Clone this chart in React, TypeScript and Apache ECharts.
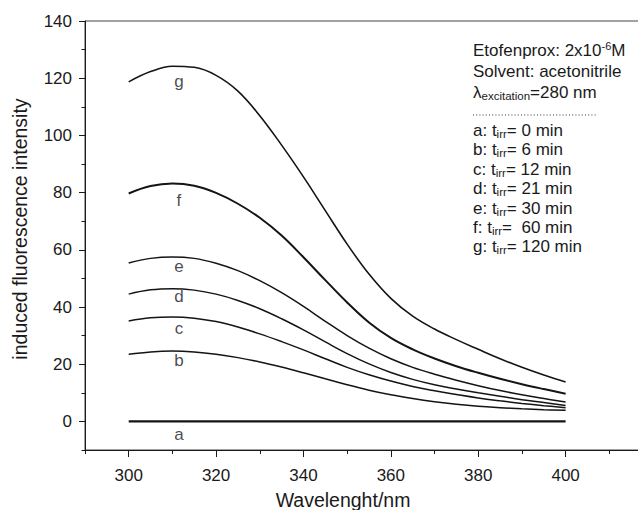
import React, { useEffect, useRef } from "react";
import * as echarts from "echarts";

const FONT = "'Liberation Sans', Arial, Helvetica, sans-serif";

const WAVELENGTHS = [300, 305, 310, 315, 320, 325, 330, 335, 340, 345, 350, 355, 360, 365, 370, 375, 380, 385, 390, 395, 400];
const CURVE_A = [0, 0, 0, 0, 0, 0, 0, 0, 0, 0, 0, 0, 0, 0, 0, 0, 0, 0, 0, 0, 0];
const CURVE_B = [23.5, 24.3, 24.6, 24.3, 23.5, 22.3, 20.8, 19.0, 17.0, 14.9, 12.8, 10.9, 9.3, 8.0, 6.9, 6.0, 5.3, 4.8, 4.4, 4.1, 3.9];
const CURVE_C = [35.1, 36.2, 36.5, 36.1, 34.9, 33.0, 30.6, 27.9, 25.0, 21.9, 18.9, 16.3, 14.1, 12.2, 10.7, 9.4, 8.2, 7.2, 6.3, 5.5, 4.8];
const CURVE_D = [44.5, 46.0, 46.4, 45.9, 44.5, 42.3, 39.4, 35.9, 32.0, 27.8, 23.7, 20.1, 17.1, 14.7, 12.8, 11.3, 10.0, 8.8, 7.6, 6.6, 5.6];
const CURVE_E = [55.4, 57.0, 57.5, 57.0, 55.3, 52.7, 49.2, 45.0, 40.2, 35.0, 30.0, 25.6, 21.9, 18.9, 16.5, 14.4, 12.5, 10.8, 9.3, 8.0, 6.8];
const CURVE_F = [79.7, 82.3, 83.2, 82.4, 79.9, 76.1, 71.2, 65.0, 57.4, 49.4, 41.6, 34.6, 29.2, 25.2, 22.0, 19.3, 17.0, 14.9, 13.0, 11.3, 9.7];
const CURVE_G = [118.7, 122.3, 124.2, 123.8, 121.0, 115.5, 106.9, 96.6, 85.5, 73.7, 62.0, 51.5, 43.0, 36.8, 32.3, 28.6, 25.2, 21.9, 18.9, 16.2, 13.8];

const CURVE_NAMES = ["a", "b", "c", "d", "e", "f", "g"];
const CURVES = [CURVE_A, CURVE_B, CURVE_C, CURVE_D, CURVE_E, CURVE_F, CURVE_G];
const CURVE_WIDTHS = [2.2, 1.5, 1.5, 1.5, 1.5, 2, 1.6];

const LABEL_X = [311.5, 311.5, 311.5, 311.5, 311.5, 311.5, 311.5];
const LABEL_Y = [-4.5, 21.4, 32.6, 43.8, 54.3, 77.4, 118.7];

const X_MAJOR = [300, 320, 340, 360, 380, 400, 420];
const X_LABELS = [300, 320, 340, 360, 380, 400];
const X_MINOR = [290, 310, 330, 350, 370, 390, 410];
const Y_MAJOR = [0, 20, 40, 60, 80, 100, 120, 140];
const Y_LABELS = [0, 20, 40, 60, 80, 100, 120, 140];
const Y_MINOR = [-10, 10, 30, 50, 70, 90, 110, 130];

const X_TITLE = "Wavelenght/nm";
const Y_TITLE = "induced fluorescence intensity";

const NOTE_HEAD = [
  "{n|Etofenprox: 2x10}{sup|-6}{n|M}",
  "{n|Solvent: acetonitrile}",
  "{n|λ}{sub|excitation}{n|=280 nm}",
];
const NOTE_TIMES = [
  "{n|a: t}{sub|irr}{n|= 0 min}",
  "{n|b: t}{sub|irr}{n|= 6 min}",
  "{n|c: t}{sub|irr}{n|= 12 min}",
  "{n|d: t}{sub|irr}{n|= 21 min}",
  "{n|e: t}{sub|irr}{n|= 30 min}",
  "{n|f: t}{sub|irr}{n|=  60 min}",
  "{n|g: t}{sub|irr}{n|= 120 min}",
];

export default function App() {
  const ref = useRef<HTMLDivElement>(null);

  useEffect(() => {
    if (!ref.current) return;
    const chart = echarts.init(ref.current, undefined, { renderer: "svg" });

    const rich = {
      n: { fontSize: 17, fontFamily: FONT, fill: "#1a1a1a", lineHeight: 19 },
      sup: { fontSize: 11, fontFamily: FONT, fill: "#1a1a1a", lineHeight: 7, verticalAlign: "top" },
      sub: { fontSize: 11.5, fontFamily: FONT, fill: "#1a1a1a", lineHeight: 9, verticalAlign: "bottom" },
    };

    const noteY0 = [50, 71, 92];
    const graphics: any[] = [];
    NOTE_HEAD.forEach((t, i) => {
      graphics.push({
        type: "text",
        x: 473,
        y: noteY0[i],
        style: { text: t, rich, fontSize: 17, fontFamily: FONT, fill: "#1a1a1a", align: "left", verticalAlign: "middle" },
      });
    });
    graphics.push({
      type: "line",
      shape: { x1: 473, y1: 115, x2: 597, y2: 115 },
      style: { stroke: "#333", lineWidth: 1, lineDash: [1, 2.2] },
    });
    NOTE_TIMES.forEach((t, i) => {
      graphics.push({
        type: "text",
        x: 473,
        y: 130.5 + i * 19.4,
        style: { text: t, rich, fontSize: 17, fontFamily: FONT, fill: "#1a1a1a", align: "left", verticalAlign: "middle" },
      });
    });
    graphics.push({
      type: "text",
      x: 343,
      y: 500,
      style: { text: X_TITLE, fontSize: 19.5, fontFamily: FONT, fill: "#1a1a1a", align: "center", verticalAlign: "middle" },
    });
    graphics.push({
      type: "text",
      x: 20,
      y: 229,
      rotation: Math.PI / 2,
      style: { text: Y_TITLE, fontSize: 19.5, fontFamily: FONT, fill: "#1a1a1a", align: "center", verticalAlign: "middle" },
    });

    const gridRect = { left: 85, top: 21, right: -15, bottom: 60, containLabel: false, outerBoundsMode: "none" };

    const lineSeries = CURVES.map((vals, i) => ({
      name: CURVE_NAMES[i],
      type: "line",
      xAxisIndex: 0,
      yAxisIndex: 0,
      data: WAVELENGTHS.map((w, k) => [w, vals[k]]),
      showSymbol: false,
      smooth: 0.4,
      lineStyle: { color: "#141414", width: CURVE_WIDTHS[i] },
      silent: true,
    }));

    const labelSeries = {
      type: "scatter",
      xAxisIndex: 0,
      yAxisIndex: 0,
      symbolSize: 0,
      data: LABEL_X.map((x, i) => ({ value: [x, LABEL_Y[i]], name: CURVE_NAMES[i] })),
      label: {
        show: true,
        position: "inside",
        formatter: (p: any) => p.name,
        fontSize: 17,
        fontFamily: FONT,
        color: "#1a1a1a",
      },
      silent: true,
    };

    chart.setOption({
      animation: false,
      backgroundColor: "#ffffff",
      grid: [
        { ...gridRect, show: true, borderColor: "#444", borderWidth: 1, backgroundColor: "transparent" },
        { ...gridRect, show: false },
      ],
      xAxis: [
        {
          type: "value",
          gridIndex: 0,
          position: "bottom",
          min: 290,
          max: 420,
          splitLine: { show: false },
          axisLine: { show: true, onZero: false, lineStyle: { color: "#1a1a1a", width: 1 } },
          axisTick: { show: true, inside: false, length: 7, customValues: X_MAJOR, lineStyle: { color: "#1a1a1a" } },
          axisLabel: { show: true, customValues: X_LABELS, margin: 17, fontSize: 17, fontFamily: FONT, color: "#1a1a1a" },
        },
        {
          type: "value",
          gridIndex: 1,
          position: "bottom",
          min: 290,
          max: 420,
          splitLine: { show: false },
          axisLine: { show: false, onZero: false },
          axisTick: { show: true, inside: false, length: 4, customValues: X_MINOR, lineStyle: { color: "#1a1a1a" } },
          axisLabel: { show: false },
        },
      ],
      yAxis: [
        {
          type: "value",
          gridIndex: 0,
          position: "left",
          min: -10,
          max: 140,
          splitLine: { show: false },
          axisLine: { show: true, onZero: false, lineStyle: { color: "#1a1a1a", width: 1 } },
          axisTick: { show: true, inside: false, length: 6, customValues: Y_MAJOR, lineStyle: { color: "#1a1a1a" } },
          axisLabel: { show: true, customValues: Y_LABELS, margin: 13, fontSize: 17, fontFamily: FONT, color: "#1a1a1a" },
        },
        {
          type: "value",
          gridIndex: 1,
          position: "left",
          min: -10,
          max: 140,
          splitLine: { show: false },
          axisLine: { show: false, onZero: false },
          axisTick: { show: true, inside: false, length: 3.5, customValues: Y_MINOR, lineStyle: { color: "#1a1a1a" } },
          axisLabel: { show: false },
        },
      ],
      series: [...lineSeries, labelSeries],
      graphic: graphics,
    });

    return () => chart.dispose();
  }, []);

  return (
    <div
      ref={ref}
      style={{ position: "fixed", left: 0, top: 0, width: 638, height: 510, background: "#fff" }}
    />
  );
}
